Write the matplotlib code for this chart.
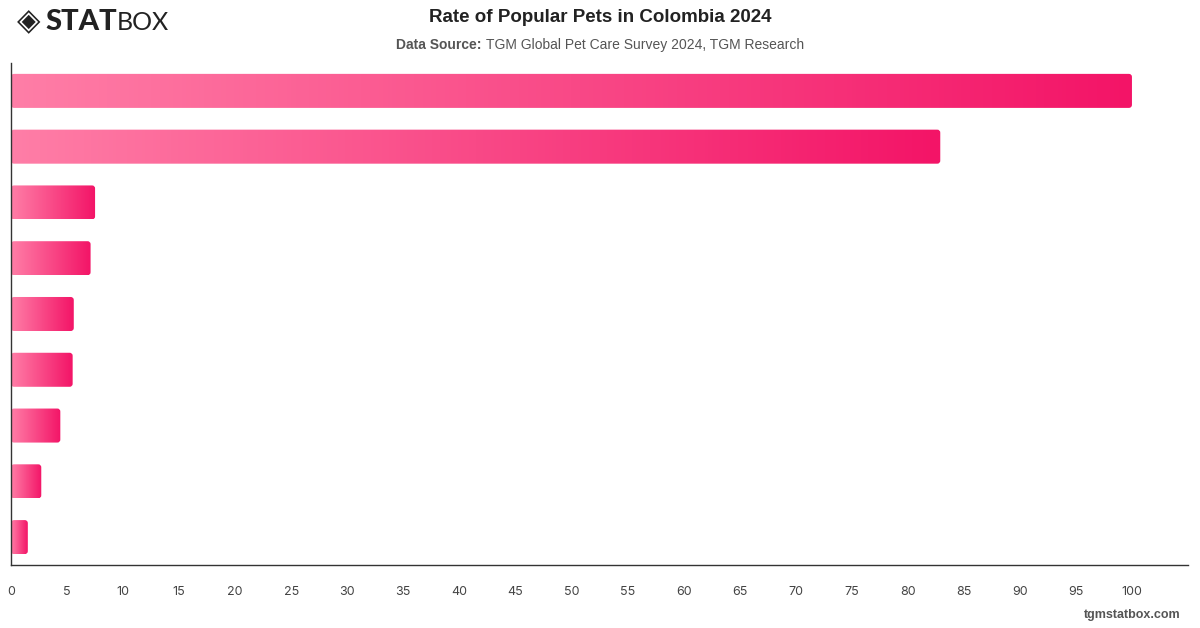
import numpy as np
import matplotlib.pyplot as plt
from matplotlib.colors import LinearSegmentedColormap
from matplotlib.patches import FancyBboxPatch

# data (category labels are hidden in the source chart)
pets = ['Dogs', 'Cats', 'Fish', 'Birds', 'Rabbits', 'Hamsters', 'Turtles', 'Reptiles', 'Other']
rates = [100, 82.9, 7.5, 7.1, 5.6, 5.5, 4.4, 2.7, 1.5]
xticks = list(range(0, 101, 5))

title = 'Rate of Popular Pets in Colombia 2024'
source = 'TGM Global Pet Care Survey 2024, TGM Research'

plt.rcParams['font.family'] = ['Liberation Sans', 'DejaVu Sans']

W, H = 1200, 628
cmap = LinearSegmentedColormap.from_list('pink', ['#ff7ea7', '#f31467'])

fig = plt.figure(figsize=(12, 6.28), dpi=100)
ax = fig.add_axes([11 / W, 63 / H, 1177 / W, 502 / H])

ypos = np.arange(len(pets))
bar_h = 0.61
bars = ax.barh(ypos, rates, height=bar_h, color='none')

grad = np.linspace(0, 1, 256).reshape(1, -1)
for b in bars:
    x0, y0 = b.get_x(), b.get_y()
    w, h = b.get_width(), b.get_height()
    patch = FancyBboxPatch((x0, y0), w, h,
                           boxstyle='round,pad=0,rounding_size=0.27',
                           mutation_aspect=0.2, fc='none', ec='none')
    ax.add_patch(patch)
    im = ax.imshow(grad, extent=[x0, x0 + w, y0, y0 + h], aspect='auto',
                   cmap=cmap, origin='lower', zorder=2)
    im.set_clip_path(patch)

ax.set_xlim(0, 105)
ax.set_ylim(len(pets) - 0.5, -0.5)
ax.set_xticks(xticks)
ax.set_xticklabels([str(t) for t in xticks], family='Inter')
ax.set_yticks([])
ax.tick_params(axis='x', length=0, pad=15, labelsize=9, labelcolor='#444444')
for s in ['top', 'right']:
    ax.spines[s].set_visible(False)
for s in ['left', 'bottom']:
    ax.spines[s].set_color('#333333')
    ax.spines[s].set_linewidth(1)

renderer = fig.canvas.get_renderer()


def width_px(t):
    return t.get_window_extent(renderer).width


# header
fig.text(0.5, 1 - 18 / H, title, ha='center', va='center',
         fontsize=13.5, fontweight='bold', color='#222222')
t1 = fig.text(0, 1 - 45 / H, 'Data Source: ', ha='left', va='center',
              fontsize=10, fontweight='bold', color='#555555')
t2 = fig.text(0, 1 - 45 / H, source, ha='left', va='center',
              fontsize=10, color='#555555')
w1, w2 = width_px(t1), width_px(t2)
start = (W - w1 - w2) / 2
t1.set_x(start / W)
t2.set_x((start + w1) / W)

# logo
fig.text(29 / W, 1 - 22 / H, '\u25C8', ha='center', va='center',
         fontsize=22, color='#222222', family='DejaVu Sans')
s1 = fig.text(45 / W, 1 - 22 / H, 'STAT', ha='left', va='center',
              fontsize=21, fontweight='black', color='#222222', family='Lato')
s2 = fig.text(0, 1 - 22 / H, 'BOX', ha='left', va='center',
              fontsize=18, fontweight='normal', color='#222222', family='Lato')
s2.set_x((45 + width_px(s1)) / W)

fig.text(1180 / W, 1 - 615 / H, 'tgmstatbox.com', ha='right', va='center',
         fontsize=9, fontweight='bold', color='#555555')

fig.savefig('out.png', dpi=100)
